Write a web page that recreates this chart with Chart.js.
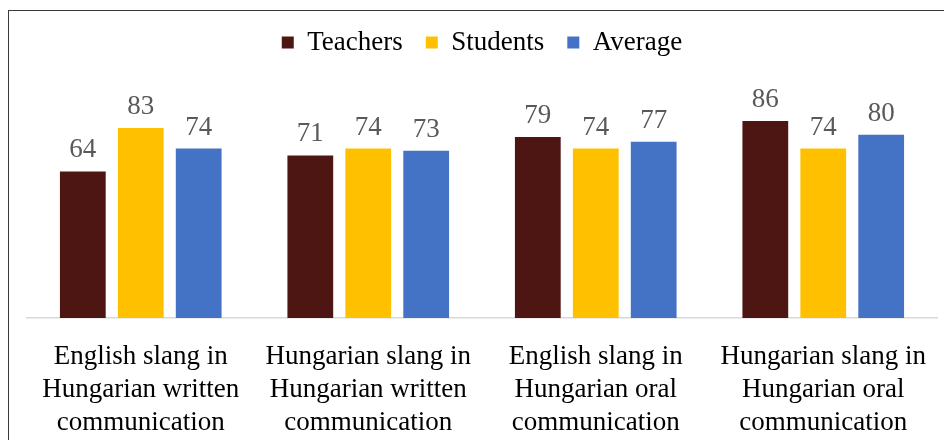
<!DOCTYPE html>
<html>
<head>
<meta charset="utf-8">
<script src="https://cdn.jsdelivr.net/npm/chart.js@4"></script>
<style>
    html, body { margin: 0; padding: 0; background: #fff; }
    #wrap { position: relative; width: 944px; height: 440px; overflow: hidden; }
    #frame {
        position: absolute; left: 8px; top: 10px; width: 960px; height: 460px;
        border-left: 1.5px solid #3a3a3a; border-top: 1.5px solid #3a3a3a;
        pointer-events: none;
    }
    canvas { position: absolute; left: 0; top: 0; }
</style>
</head>
<body>
<div id="wrap">
    <canvas id="slangChart" width="944" height="456"></canvas>
    <div id="frame"></div>
</div>
<script>
const categories = [
    ['English slang in', 'Hungarian written', 'communication'],
    ['Hungarian slang in', 'Hungarian written', 'communication'],
    ['English slang in', 'Hungarian oral', 'communication'],
    ['Hungarian slang in', 'Hungarian oral', 'communication']
];
const teachers = [64, 71, 79, 86];
const students = [83, 74, 74, 74];
const average = [74, 73, 77, 80];

const serif = "'Liberation Serif', 'Times New Roman', serif";

// draw the value above each bar
const valueLabels = {
    id: 'valueLabels',
    afterDatasetsDraw(chart) {
        const ctx = chart.ctx;
        ctx.save();
        ctx.font = `27px ${serif}`;
        ctx.fillStyle = '#595959';
        ctx.textAlign = 'center';
        ctx.textBaseline = 'alphabetic';
        chart.data.datasets.forEach((ds, i) => {
            chart.getDatasetMeta(i).data.forEach((bar, j) => {
                ctx.fillText(ds.data[j], bar.x, bar.y - 14);
            });
        });
        ctx.restore();
    }
};

// extra room between legend and bars
const legendGap = {
    id: 'legendGap',
    beforeInit(chart) {
        const fit = chart.legend.fit;
        chart.legend.fit = function () {
            fit.bind(chart.legend)();
            this.height += 23;
        };
    }
};

const ctx = document.getElementById('slangChart').getContext('2d');
new Chart(ctx, {
    type: 'bar',
    data: {
        labels: categories,
        datasets: [
            { label: 'Teachers', data: teachers, backgroundColor: '#4E1612' },
            { label: 'Students', data: students, backgroundColor: '#FFC000' },
            { label: 'Average', data: average, backgroundColor: '#4472C4' }
        ]
    },
    options: {
        responsive: false,
        animation: false,
        events: [],
        categoryPercentage: 0.764,
        barPercentage: 0.79,
        layout: {
            padding: { left: 27, right: 7, top: 6, bottom: 3 }
        },
        plugins: {
            tooltip: { enabled: false },
            legend: {
                position: 'top',
                labels: {
                    boxWidth: 12,
                    boxHeight: 12,
                    padding: 23,
                    color: '#000',
                    font: { family: serif, size: 27 }
                }
            }
        },
        scales: {
            x: {
                grid: { display: false },
                border: { color: '#D9D9D9', width: 1.5 },
                ticks: {
                    color: '#000',
                    padding: 14,
                    maxRotation: 0,
                    autoSkip: false,
                    font: { family: serif, size: 27, lineHeight: 1.222 }
                }
            },
            y: {
                display: false,
                min: 0,
                max: 100
            }
        }
    },
    plugins: [valueLabels, legendGap]
});
</script>
</body>
</html>
